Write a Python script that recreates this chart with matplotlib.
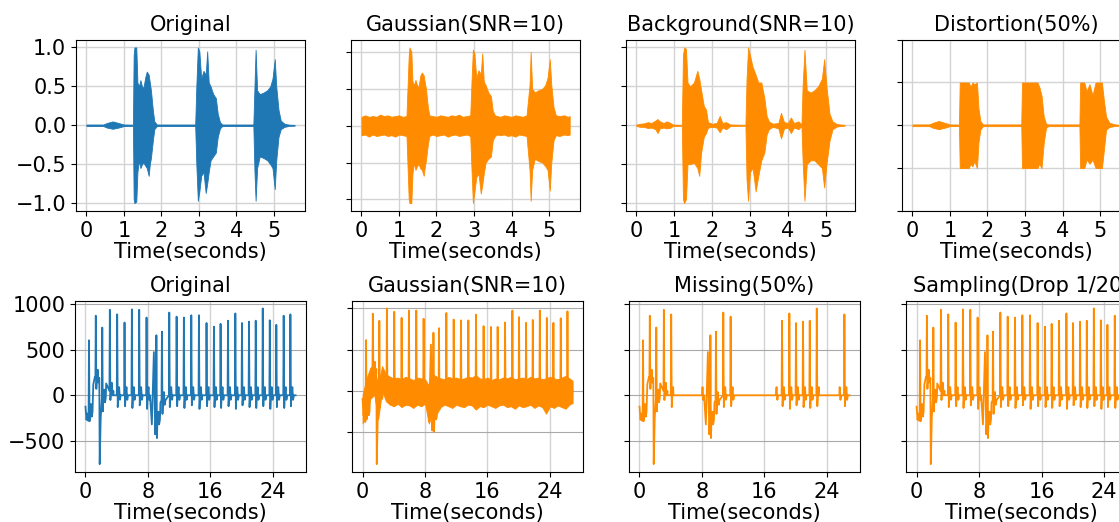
import numpy as np
import matplotlib
matplotlib.use('Agg')
import matplotlib.pyplot as plt

# ---- top row: audio envelopes (time, upper, lower) ----
audio_orig = [
    (0.00, 0.010, -0.010), (0.45, 0.010, -0.010), (0.55, 0.030, -0.030), (0.70, 0.050, -0.045),
    (0.85, 0.030, -0.030), (1.00, 0.010, -0.010), (1.24, 0.008, -0.008), (1.26, 0.90, -0.95),
    (1.28, 1.00, -1.00), (1.33, 1.00, -0.98), (1.36, 0.55, -0.60), (1.40, 0.50, -0.45),
    (1.44, 0.58, -0.55), (1.48, 0.50, -0.50), (1.52, 0.48, -0.48), (1.57, 0.62, -0.52),
    (1.61, 0.69, -0.55), (1.66, 0.65, -0.65), (1.69, 0.55, -0.50), (1.72, 0.45, -0.42),
    (1.77, 0.20, -0.20), (1.81, 0.05, -0.05), (1.88, 0.010, -0.010), (2.90, 0.010, -0.010),
    (2.93, 0.50, -0.50), (2.97, 1.00, -0.97), (3.01, 0.95, -0.85), (3.06, 0.60, -0.65),
    (3.12, 0.70, -0.60), (3.18, 0.65, -0.87), (3.22, 0.95, -0.75), (3.26, 0.55, -0.60),
    (3.31, 0.50, -0.45), (3.38, 0.40, -0.40), (3.45, 0.35, -0.35), (3.50, 0.15, -0.15),
    (3.56, 0.04, -0.04), (3.62, 0.010, -0.010), (4.45, 0.010, -0.010), (4.48, 0.50, -0.60),
    (4.51, 0.97, -0.97), (4.55, 0.45, -0.55), (4.62, 0.40, -0.40), (4.72, 0.42, -0.42),
    (4.82, 0.45, -0.45), (4.90, 0.50, -0.50), (4.96, 0.60, -0.55), (5.02, 0.85, -0.82),
    (5.06, 0.50, -0.45), (5.12, 0.20, -0.15), (5.18, 0.06, -0.05), (5.28, 0.02, -0.02),
    (5.40, 0.008, -0.008), (5.55, 0.005, -0.005),
]

audio_gauss = [
    (0.00, 0.12, -0.13), (0.10, 0.14, -0.12), (0.20, 0.12, -0.15), (0.30, 0.13, -0.12),
    (0.40, 0.12, -0.14), (0.50, 0.15, -0.13), (0.60, 0.13, -0.12), (0.70, 0.14, -0.14),
    (0.80, 0.12, -0.13), (0.90, 0.13, -0.15), (1.00, 0.14, -0.12), (1.10, 0.12, -0.13),
    (1.20, 0.13, -0.14), (1.26, 0.95, -1.00), (1.28, 1.06, -1.05), (1.33, 1.00, -1.05),
    (1.36, 0.60, -0.65), (1.40, 0.55, -0.50), (1.44, 0.62, -0.60), (1.48, 0.55, -0.55),
    (1.52, 0.52, -0.52), (1.57, 0.68, -0.58), (1.61, 0.72, -0.60), (1.66, 0.68, -0.68),
    (1.69, 0.58, -0.55), (1.72, 0.50, -0.47), (1.77, 0.25, -0.25), (1.81, 0.14, -0.14),
    (1.90, 0.13, -0.12), (2.00, 0.12, -0.14), (2.10, 0.14, -0.13), (2.20, 0.13, -0.12),
    (2.30, 0.12, -0.15), (2.40, 0.14, -0.13), (2.50, 0.13, -0.12), (2.60, 0.15, -0.14),
    (2.70, 0.12, -0.13), (2.80, 0.13, -0.12), (2.90, 0.14, -0.14), (2.93, 0.55, -0.55),
    (2.97, 1.03, -1.05), (3.01, 0.98, -0.90), (3.06, 0.65, -0.70), (3.12, 0.75, -0.65),
    (3.18, 0.70, -0.92), (3.22, 0.98, -0.80), (3.26, 0.60, -0.65), (3.31, 0.55, -0.50),
    (3.38, 0.45, -0.45), (3.45, 0.40, -0.42), (3.50, 0.20, -0.20), (3.56, 0.14, -0.14),
    (3.62, 0.13, -0.12), (3.70, 0.12, -0.13), (3.80, 0.14, -0.12), (3.90, 0.13, -0.14),
    (4.00, 0.12, -0.13), (4.10, 0.14, -0.15), (4.20, 0.13, -0.12), (4.30, 0.12, -0.13),
    (4.40, 0.14, -0.14), (4.48, 0.55, -0.60), (4.51, 1.00, -1.02), (4.55, 0.50, -0.60),
    (4.62, 0.45, -0.45), (4.72, 0.48, -0.48), (4.82, 0.50, -0.50), (4.90, 0.55, -0.55),
    (4.96, 0.65, -0.60), (5.02, 0.90, -0.88), (5.06, 0.55, -0.50), (5.12, 0.25, -0.20),
    (5.18, 0.14, -0.13), (5.28, 0.13, -0.14), (5.40, 0.14, -0.12), (5.50, 0.12, -0.13),
    (5.55, 0.13, -0.12),
]

audio_backg = [
    (0.00, 0.010, -0.010), (0.10, 0.020, -0.020), (0.20, 0.025, -0.020), (0.30, 0.040, -0.035),
    (0.40, 0.030, -0.030), (0.50, 0.060, -0.050), (0.56, 0.080, -0.100), (0.62, 0.050, -0.040),
    (0.72, 0.030, -0.030), (0.80, 0.050, -0.040), (0.90, 0.030, -0.030), (0.96, 0.010, -0.010),
    (1.20, 0.005, -0.005), (1.23, 0.90, -0.95), (1.26, 1.00, -1.00), (1.31, 0.98, -0.95),
    (1.35, 0.55, -0.50), (1.42, 0.50, -0.50), (1.52, 0.55, -0.48), (1.61, 0.70, -0.55),
    (1.66, 0.60, -0.65), (1.71, 0.45, -0.35), (1.78, 0.25, -0.15), (1.84, 0.20, -0.10),
    (1.89, 0.04, -0.03), (2.00, 0.02, -0.02), (2.12, 0.03, -0.03), (2.20, 0.12, -0.09),
    (2.27, 0.03, -0.03), (2.37, 0.04, -0.05), (2.48, 0.01, -0.01), (2.88, 0.005, -0.005),
    (2.91, 0.60, -0.70), (2.95, 1.00, -0.97), (3.00, 0.90, -0.60), (3.07, 0.75, -0.55),
    (3.15, 0.65, -0.85), (3.22, 0.55, -0.65), (3.30, 0.55, -0.45), (3.38, 0.35, -0.35),
    (3.44, 0.12, -0.12), (3.50, 0.05, -0.05), (3.60, 0.02, -0.02), (3.75, 0.03, -0.04),
    (3.82, 0.16, -0.17), (3.90, 0.04, -0.04), (4.00, 0.03, -0.03), (4.08, 0.10, -0.10),
    (4.16, 0.03, -0.03), (4.28, 0.05, -0.05), (4.36, 0.01, -0.01), (4.39, 0.50, -0.45),
    (4.44, 0.97, -0.97), (4.50, 0.45, -0.50), (4.60, 0.42, -0.45), (4.70, 0.45, -0.45),
    (4.80, 0.50, -0.50), (4.90, 0.60, -0.55), (4.96, 0.85, -0.80), (5.02, 0.50, -0.50),
    (5.10, 0.15, -0.20), (5.18, 0.05, -0.05), (5.30, 0.015, -0.015), (5.50, 0.005, -0.005),
]

audio_dist = [
    (0.00, 0.010, -0.010), (0.45, 0.010, -0.010), (0.55, 0.030, -0.030), (0.70, 0.050, -0.045),
    (0.85, 0.030, -0.030), (1.00, 0.010, -0.010), (1.24, 0.008, -0.008), (1.26, 0.50, -0.50),
    (1.50, 0.50, -0.50), (1.55, 0.45, -0.45), (1.60, 0.50, -0.48), (1.65, 0.48, -0.42),
    (1.72, 0.50, -0.50), (1.76, 0.20, -0.20), (1.81, 0.05, -0.05), (1.88, 0.010, -0.010),
    (2.90, 0.010, -0.010), (2.92, 0.50, -0.50), (3.33, 0.50, -0.50), (3.38, 0.45, -0.45),
    (3.44, 0.35, -0.50), (3.50, 0.10, -0.20), (3.56, 0.02, -0.03), (3.62, 0.010, -0.010),
    (4.45, 0.010, -0.010), (4.47, 0.50, -0.50), (4.58, 0.50, -0.50), (4.64, 0.40, -0.40),
    (4.72, 0.48, -0.45), (4.80, 0.35, -0.40), (4.88, 0.50, -0.50), (5.05, 0.50, -0.50),
    (5.10, 0.30, -0.30), (5.16, 0.10, -0.05), (5.25, 0.03, -0.02), (5.40, 0.010, -0.008),
    (5.55, 0.005, -0.005),
]

# ---- bottom row: ECG beats (R peak time, R peak value, S dip) and baseline wander ----
ecg_beat_t = [0.45, 1.32, 2.15, 3.12, 4.06, 5.0, 5.94, 6.88, 7.82, 9.08, 9.79, 10.73, 11.67, 12.6, 13.55,
              14.53, 15.5, 16.45, 17.3, 18.25, 19.19, 20.04, 20.94, 21.8, 22.7, 23.6, 24.44, 25.38, 26.24]
ecg_beat_r = [605, 875, 745, 940, 890, 800, 945, 940, 855, 660, 700, 910, 865, 855, 880,
              880, 795, 755, 785, 820, 900, 795, 810, 820, 955, 825, 775, 875, 890]
ecg_beat_s = [-100, -120, -150, -100, -130, -120, -140, -110, -150, -200, -150, -130, -120, -140, -110,
              -150, -120, -130, -140, -120, -150, -110, -130, -140, -120, -150, -130, -140, -120]
ecg_base_t = [0.0, 0.13, 0.25, 0.35, 0.7, 1.0, 1.2, 1.6, 1.82, 1.95, 2.4, 2.65, 3.0, 3.6,
              8.0, 8.2, 8.5, 8.76, 8.93, 9.0, 9.6, 10.2, 26.9]
ecg_base_v = [-125, -270, -200, -280, 50, 120, 200, 170, -757, -250, 250, 130, 60, 0,
              0, -50, -320, 475, -430, -300, -80, 0, 0]

gauss_beat_r = [615, 935, 850, 1000, 960, 885, 975, 975, 875, 705, 760, 945, 865, 855, 855,
                925, 785, 775, 775, 830, 975, 895, 825, 860, 975, 885, 825, 880, 965]
gauss_base_v = [-100, -300, -150, -380, 80, 200, 280, 220, -893, -300, 260, 150, 60, 0,
                0, -80, -380, 560, -484, -330, -100, 0, 0]
gauss_band_t = [0.0, 0.5, 1.0, 1.5, 2.0, 2.5, 3.0, 3.5, 4.0, 4.5, 5.0, 5.5, 6.0, 6.5, 7.0, 7.5, 8.0, 8.5,
                9.0, 9.5, 10.0, 10.5, 11.0, 11.5, 12.0, 12.5, 13.0, 13.5, 14.0, 14.5, 15.0, 15.5, 16.0,
                16.5, 17.0, 17.5, 18.0, 18.5, 19.0, 19.5, 20.0, 20.5, 21.0, 21.5, 22.0, 22.5, 23.0,
                23.5, 24.0, 24.5, 25.0, 25.5, 26.0, 26.5, 26.9]
gauss_band_hi = [-50, 150, 280, 250, 80, 300, 200, 170, 150, 160, 140, 170, 150, 130, 160, 150, 140, 60,
                 200, 170, 150, 140, 170, 150, 160, 140, 150, 170, 160, 190, 150, 140, 160,
                 130, 150, 140, 160, 150, 170, 140, 150, 160, 140, 170, 150, 160, 140,
                 150, 170, 150, 140, 160, 180, 150, 120]
gauss_band_lo = [-400, -300, -100, -50, -350, 0, -130, -170, -190, -160, -200, -170, -180, -210, -170, -190, -160, -400,
                 -250, -280, -200, -170, -190, -210, -170, -190, -200, -170, -180, -230, -190, -200, -170,
                 -190, -210, -180, -170, -200, -190, -220, -180, -200, -190, -170, -210, -180, -200,
                 -280, -190, -210, -180, -200, -220, -170, -150]

missing_gaps = [(4.35, 8.0), (12.2, 17.45), (23.0, 25.6)]

top_titles = ['Original', 'Gaussian(SNR=10)', 'Background(SNR=10)', 'Distortion(50%)']
bottom_titles = ['Original', 'Gaussian(SNR=10)', 'Missing(50%)', 'Sampling(Drop 1/20)']

BLUE = '#1f77b4'
ORANGE = '#ff8c00'


def ecg_trace(beat_t, beat_r, beat_s, base_t, base_v):
    windows = [(tb - 0.05, tb + 0.45) for tb in beat_t]
    pts = [(tk, vk) for tk, vk in zip(base_t, base_v)
           if not any(a <= tk <= b for a, b in windows)]
    for tb, r, s in zip(beat_t, beat_r, beat_s):
        b = np.interp(tb, base_t, base_v)
        pts += [(tb - 0.05, b), (tb, r), (tb + 0.07, b + s), (tb + 0.14, b),
                (tb + 0.25, b + 90), (tb + 0.35, b - 50), (tb + 0.45, b)]
    pts.sort()
    return [p[0] for p in pts], [p[1] for p in pts]


def with_gaps(t, v, gaps):
    pts = [(ti, vi) for ti, vi in zip(t, v) if not any(a <= ti <= b for a, b in gaps)]
    for a, b in gaps:
        pts += [(a, 0), (b, 0)]
    pts.sort()
    return [p[0] for p in pts], [p[1] for p in pts]


def draw_audio(ax, rows, color):
    t = [r[0] for r in rows]
    hi = [r[1] for r in rows]
    lo = [r[2] for r in rows]
    ax.fill_between(t, lo, hi, color=color, lw=0.6)


plt.rcParams['font.size'] = 15
fig = plt.figure(figsize=(11.19, 5.22), dpi=100)

top_left = [0.0679, 0.3137, 0.5594, 0.8061]
bot_left = [0.0670, 0.3146, 0.5621, 0.8097]

top_axes = [fig.add_axes([l, 0.596, 0.2047, 0.328]) for l in top_left]
bot_axes = [fig.add_axes([l, 0.096, 0.2065, 0.328]) for l in bot_left]

draw_audio(top_axes[0], audio_orig, BLUE)
draw_audio(top_axes[1], audio_gauss, ORANGE)
draw_audio(top_axes[2], audio_backg, ORANGE)
draw_audio(top_axes[3], audio_dist, ORANGE)
top_axes[3].set_ylim(-1, 1)

et, ev = ecg_trace(ecg_beat_t, ecg_beat_r, ecg_beat_s, ecg_base_t, ecg_base_v)
gt, gv = ecg_trace(ecg_beat_t, gauss_beat_r, ecg_beat_s, ecg_base_t, gauss_base_v)
mt, mv = with_gaps(et, ev, missing_gaps)

bot_axes[0].plot(et, ev, color=BLUE, lw=1.3)
bot_axes[1].fill_between(gauss_band_t, gauss_band_lo, gauss_band_hi, color=ORANGE, lw=0.6)
bot_axes[1].plot(gt, gv, color=ORANGE, lw=1.3)
bot_axes[2].plot(mt, mv, color=ORANGE, lw=1.3)
bot_axes[3].plot(et, ev, color=ORANGE, lw=1.3)

for i, ax in enumerate(top_axes):
    ax.set_title(top_titles[i], fontsize=15)
    ax.set_xlabel('Time(seconds)', fontsize=15, labelpad=1)
    ax.set_xticks([0, 1, 2, 3, 4, 5])
    ax.grid(True, color='#d3d3d3', lw=1.0)
    ax.set_axisbelow(True)
    ax.set_yticks([-1.0, -0.5, 0.0, 0.5, 1.0])
    if i > 0:
        ax.tick_params(axis='y', labelleft=False)

for i, ax in enumerate(bot_axes):
    ax.set_title(bottom_titles[i], fontsize=15)
    ax.set_xlabel('Time(seconds)', fontsize=15, labelpad=1)
    ax.set_xticks([0, 8, 16, 24])
    ax.grid(True, axis='x', color='#d3d3d3', lw=1.0)
    ax.grid(True, axis='y', color='#a9a9a9', lw=0.8)
    ax.set_axisbelow(True)
    ax.set_yticks([-500, 0, 500, 1000])
    if i > 0:
        ax.tick_params(axis='y', labelleft=False)

fig.savefig('out.png', dpi=100)
